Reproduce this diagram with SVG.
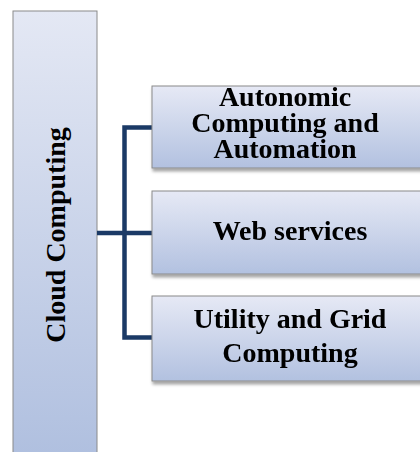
<svg xmlns="http://www.w3.org/2000/svg" width="420" height="452" viewBox="0 0 420 452">
  <defs>
    <linearGradient id="fillV" x1="0" y1="0" x2="0" y2="1">
      <stop offset="0" stop-color="#e6e9f5"/>
      <stop offset="1" stop-color="#b2c1e0"/>
    </linearGradient>
    <linearGradient id="fillTall" x1="0" y1="0" x2="0" y2="1">
      <stop offset="0" stop-color="#e4e8f4"/>
      <stop offset="1" stop-color="#afbfdf"/>
    </linearGradient>
    <filter id="shadow" x="-10%" y="-10%" width="130%" height="140%">
      <feDropShadow dx="1" dy="3" stdDeviation="1.5" flood-color="#000" flood-opacity="0.35"/>
    </filter>
  </defs>
  <style>
    .box { stroke: #8a8a8a; stroke-width: 1; }
    .label { font-family: "Liberation Serif", "Times New Roman", serif; font-weight: bold; font-size: 28px; fill: #000; text-anchor: middle; }
    .link { fill: none; stroke: #1b3a66; stroke-width: 4.5; stroke-linejoin: miter; }
  </style>

  <rect width="420" height="452" fill="#fff"/>

  <!-- root -->
  <g id="cloud-computing">
    <rect class="box" x="13" y="11" width="84" height="450" fill="url(#fillTall)"/>
    <text class="label" transform="translate(65 235) rotate(-90)" font-size="29">Cloud Computing</text>
  </g>

  <!-- connectors -->
  <g id="connectors">
    <path class="link" d="M154 127.5 H124.5 V337.5 H154"/>
    <path class="link" d="M97 233 H154"/>
  </g>

  <g id="autonomic" filter="url(#shadow)">
    <rect class="box" x="152" y="86" width="290" height="82" fill="url(#fillV)"/>
    <text class="label" font-size="29"><tspan x="285" y="106">Autonomic</tspan><tspan x="285" y="132">Computing and</tspan><tspan x="285" y="158">Automation</tspan></text>
  </g>

  <g id="web-services" filter="url(#shadow)">
    <rect class="box" x="152" y="191" width="290" height="83" fill="url(#fillV)"/>
    <text class="label" x="290" y="240">Web services</text>
  </g>

  <g id="utility-grid" filter="url(#shadow)">
    <rect class="box" x="152" y="296" width="290" height="85" fill="url(#fillV)"/>
    <text class="label"><tspan x="290" y="328">Utility and Grid</tspan><tspan x="290" y="362">Computing</tspan></text>
  </g>
</svg>
